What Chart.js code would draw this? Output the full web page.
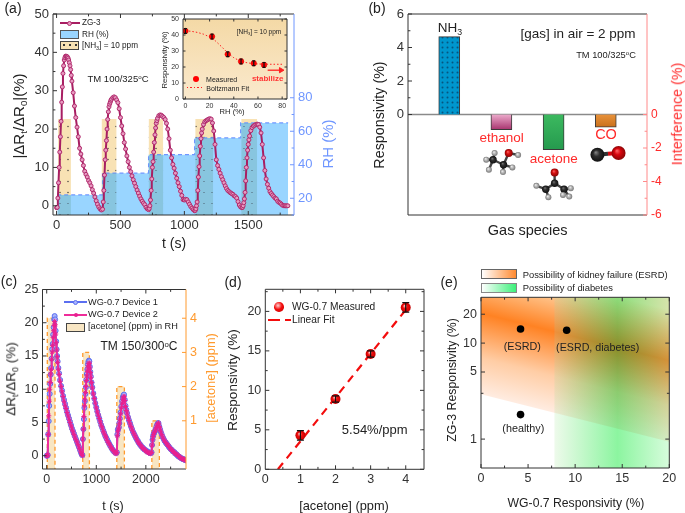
<!DOCTYPE html>
<html>
<head>
<meta charset="utf-8">
<title>Gas sensor panels</title>
<script src="https://cdn.jsdelivr.net/npm/chart.js@4/dist/chart.umd.js"></script>
<style>
  html, body { margin: 0; padding: 0; background: #fff; }
  #wrap { position: relative; width: 685px; height: 513px; overflow: hidden; font-family: "Liberation Sans", Arial, sans-serif; color: #222; filter: blur(0.35px); }
  canvas { position: absolute; left: 0; top: 0; }
  .t { position: absolute; white-space: nowrap; line-height: 1; }
  .t sub, .t sup { font-size: .65em; line-height: 0; vertical-align: baseline; position: relative; }
  .t sub { top: .3em; } .t sup { top: -.45em; }
  .sw { position: absolute; box-sizing: border-box; }
</style>
</head>
<body>
<div id="wrap"></div>
<script>
'use strict';
const W = 685, H = 513;
const FONT = '"Liberation Sans", Arial, sans-serif';
const wrap = document.getElementById('wrap');

/* (a) ZG-3 response in humidity */
const zgTime = [0,5,10,15,20,25,30,35,40,45,50,55,60,65,70,75,80,85,90,95,100,105,110,115,120,130,140,150,160,170,180,190,200,210,220,230,240,250,260,270,280,290,300,310,320,330,340,350,
  360,365,370,375,380,385,390,395,400,405,410,415,420,425,430,440,450,460,470,480,490,500,510,520,530,540,550,560,570,580,590,600,610,620,630,640,650,660,670,680,690,700,710,
  720,725,730,735,740,745,750,755,760,765,770,775,780,785,790,800,810,820,830,840,850,860,870,880,890,900,910,920,930,940,950,960,970,980,990,1000,1010,1020,1030,1040,1050,1060,1070,
  1080,1085,1090,1095,1100,1105,1110,1115,1120,1125,1130,1135,1140,1150,1160,1170,1180,1190,1200,1210,1220,1230,1240,1250,1260,1270,1280,1290,1300,1310,1320,1330,1340,1350,1360,1370,1380,1390,1400,1410,1420,1430,1440,
  1450,1455,1460,1465,1470,1475,1480,1485,1490,1495,1500,1505,1510,1520,1530,1540,1550,1560,1570,1580,1590,1600,1610,1620,1630,1640,1650,1660,1670,1680,1690,1700,1710,1720,1730,1740,1750,1760,1770,1780,1790,1800,1810];
const zgResp = [-0.5,-0.4,2,6,10,14,18,22,27,31,34.5,36.5,38,38.6,39,39,38.9,38.8,38.5,38,37.3,36.5,35.5,34,32.5,29.5,26,23,20.5,18,15,13.5,12,10.5,9,8.2,7.5,6.6,6,5.2,4.2,3.3,2.3,1.3,0.4,-0.3,-0.8,-1.1,
  -0.9,1,4,8,12,14.5,17,20,22.5,24.5,25.8,26.5,27,27.5,27.8,28.2,28.4,28.2,27.6,26.9,25.3,23,20.8,18.8,16.5,14.8,13,11.5,10,8.9,7.8,6.8,5.9,5,4.1,3.3,2.5,1.8,1.2,0.7,0.3,-0.4,-0.8,
  -1,-0.7,0,1.5,4,7,10,11.5,14,16.5,18.5,20.3,21.5,22.2,22.8,23.5,23.7,23.6,23.3,23,22.5,21.5,20,17.5,14.5,12.5,10.8,9.8,8.5,7.2,6,5,3.8,2.7,1.6,1.5,1.7,1.6,1,0.4,-0.2,-0.6,-1,
  -1.3,-1.2,-0.8,0,1,4,7.5,10.2,13,15.5,17.5,19,20,21.2,21.9,22.2,22.4,22.6,22.7,22.6,21.6,19.5,16,12,10.5,9.5,8.5,7.6,6.8,6,5.2,4.5,4,3.7,3.4,3.2,3,2.6,2.4,2,1.1,0.2,-0.3,
  -0.5,-0.4,0,0.8,1.8,3.5,6.5,10,12.5,14.5,16,17.2,18.2,19.6,20.4,20.8,21,21.2,21.3,21.2,20.5,19,16,12.5,9.2,7,5.6,4.6,3.7,3.2,2.8,2.4,2,1.8,1.2,0.9,0.7,0.4,0.1,0,0,0,0];
const rhStepTime = [5,360,720,1080,1440,1812];
const rhLevels = [22,35,46,56,65];
const nh3Start = [12,352,720,1085,1445];
const nh3End = [112,470,835,1226,1570];
const nh3Top = 22.6;

/* (a) inset */
const insetRH = [0,22,35,46,56.5,65];
const insetResp = [42.5,39,28,23.5,22.3,21.3];
const insetErr = [1.5,1.5,1.5,1.5,1.5,1.5];
const fitRH = [0,5,10,15,20,25,30,35,40,45,50,55,60,65,70,75,80];
const fitResp = [42.7,42.3,41.6,40.5,38.8,36.2,32.6,28.8,25.8,23.8,22.8,22.2,21.9,21.8,21.7,21.7,21.7];

/* (b) selectivity */
const gasSpecies = ['NH3','ethanol','acetone','CO'];
const gasValues = [4.65,-0.9,-2.1,-0.75];
const gasTopColors = ['#0096cd','#ecaacb','#3cb95f','#e8923a'];
const gasBottomColors = ['#0096cd','#a8346f','#259a4e','#c9701c'];
const ethanolX = [1.71,1.84,1.87,1.76,2.04,2.03,2.21,2.14,2.32];
const ethanolY = [-2.70,-2.70,-2.30,-3.30,-3.00,-3.44,-3.16,-2.30,-2.42];
const ethanolKind = ['H','C','H','H','C','H','H','O','H'];
const ethanolBonds = [[0,1],[1,2],[1,3],[1,4],[4,5],[4,6],[4,7],[7,8]];
const acetoneX = [3.02,3.02,2.85,3.20,2.67,2.90,3.33,3.30,3.18];
const acetoneY = [-3.46,-4.10,-4.46,-4.46,-4.26,-4.94,-4.40,-4.90,-4.80];
const acetoneKind = ['O','C','C','C','H','H','H','H','H'];
const acetoneBonds = [[0,1],[1,2],[1,3],[2,4],[2,5],[3,6],[3,7],[3,8]];
const coX = [3.84,4.245];
const coY = [-2.40,-2.30];

/* (c) acetone response */
const wgTime = [0,10,20,30,40,50,60,70,80,90,100,110,120,130,140,150,160,170,180,190,200,210,220,235,250,270,290,310,330,350,370,390,410,430,450,470,490,510,530,550,570,590,610,630,650,670,690,705,
  720,730,740,750,760,770,780,790,800,810,820,830,840,850,860,870,880,890,905,920,940,960,980,1000,1020,1040,1060,1080,1100,1120,1140,1160,1180,1200,1220,1240,1260,1280,1300,1320,1340,1360,1380,1400,
  1415,1425,1435,1445,1455,1465,1475,1490,1505,1520,1535,1550,1560,1575,1590,1605,1620,1640,1660,1680,1700,1720,1740,1760,1780,1800,1820,1840,1860,1880,1900,1920,1940,1960,1980,2000,2020,2040,2060,2080,2100,
  2115,2125,2135,2145,2155,2170,2185,2200,2215,2230,2245,2255,2270,2285,2300,2320,2340,2360,2380,2400,2420,2440,2460,2480,2500,2520,2540,2560,2580,2600,2620,2640,2660,2680,2700,2720,2740,2760,2780,2800];
const wgDevice1 = [0,0,0.1,3.2,5.2,7.5,9.3,10.8,12.2,13.2,14.6,16,16.8,18.2,19.3,20.5,21,20.5,18.8,17.2,16,15,14.2,13.2,12.4,11.4,10.5,9.8,9,8.4,7.8,7.2,6.6,6.1,5.6,5.1,4.6,4.1,3.7,3.3,2.9,2.5,2.1,1.7,1.3,0.9,0.5,0.2,
  0.1,2.5,4,5.5,7.2,8.2,9.3,10.3,11.4,12.3,13,13.7,14.1,14.3,14.2,13.4,12.6,11.9,11,10.3,9.4,8.6,7.9,7.3,6.7,6.1,5.6,5.1,4.6,4.2,3.8,3.4,3,2.7,2.4,2.1,1.8,1.5,1.3,1,0.8,0.6,0.5,0.4,
  0.5,3.2,3.9,4.1,4.3,4.9,5.6,6.5,7.4,8.2,8.8,9.1,9.2,8.4,7.5,6.9,6.4,5.8,5.3,4.9,4.4,4,3.6,3.3,3,2.7,2.4,2.2,1.9,1.7,1.5,1.3,1.2,1,0.9,0.8,0.7,0.6,0.5,0.4,0.4,
  0.5,1.6,2.4,2.9,3.2,3.5,3.7,4,4.4,4.7,4.9,4.9,4.4,4,3.6,3.2,2.8,2.5,2.2,2,1.8,1.6,1.4,1.2,1,0.9,0.7,0.6,0.5,0.3,0.2,0,-0.1,-0.2,-0.3,-0.4,-0.5,-0.5,-0.6,-0.7];
const wgDevice2 = [0,0,0.1,3.2,6,8.2,10,11,12.3,13,14.5,15.6,16.6,17.8,18.8,19.6,20.2,19.7,18.3,17,15.9,14.9,14,13,12.2,11.2,10.4,9.6,8.9,8.2,7.6,7.1,6.5,6,5.5,5,4.5,4,3.6,3.2,2.8,2.4,2.1,1.7,1.3,0.9,0.5,0.2,
  0,2.5,4,5.9,7.5,8.4,9.5,10.4,11.3,12,12.7,13.2,13.6,13.9,13.9,13.2,12.5,11.8,11,10.2,9.3,8.6,7.9,7.2,6.6,6.1,5.6,5.1,4.6,4.2,3.7,3.4,3,2.7,2.3,2,1.8,1.5,1.2,1,0.8,0.6,0.4,0.3,
  0.5,3,3.6,4,4.3,4.9,5.5,6.3,7.2,7.9,8.5,8.8,8.9,8.3,7.4,6.8,6.4,5.8,5.3,4.8,4.4,4,3.6,3.3,3,2.7,2.4,2.1,1.9,1.7,1.5,1.3,1.1,1,0.9,0.7,0.6,0.5,0.4,0.4,0.3,
  0.5,1.6,2.4,2.9,3.2,3.5,3.7,4,4.3,4.6,4.8,4.9,4.4,4,3.6,3.2,2.8,2.5,2.2,2,1.8,1.6,1.4,1.2,1,0.9,0.7,0.6,0.4,0.3,0.2,0.1,-0.1,-0.2,-0.3,-0.4,-0.5,-0.5,-0.6,-0.7];
const acetoneStart = [12,727,1414,2121];
const acetoneEnd = [167,861,1567,2273];
const acetoneLevel = [4,3,2,1];

/* (d) calibration */
const calConc = [1,2,3,4];
const calResp = [4.3,8.9,14.6,20.5];
const calErr = [0.6,0.4,0.4,0.6];
const calFitX = [0.36,4];
const calFitY = [0,20.2];

/* (e) diagnosis map */
const mapWG = [4.2,9.1,4.2];
const mapZG = [14,13.6,1.8];
const esrdBoundaryX = [0,20];
const esrdBoundaryY = [2.93,0.94];
const esrdPeakY = [20.5,6.2];
const esrdFadeY = [70,18];
const diabetesFromX = 7.8;
const diabetesPeakX = 14.5;
const diabetesToX = 20;

/* ---- helpers ---- */
function label(html, x, y, o) {
  o = o || {};
  const el = document.createElement('div');
  el.className = 't';
  el.innerHTML = html;
  el.style.left = x + 'px';
  el.style.top = y + 'px';
  el.style.fontSize = (o.size || 12) + 'px';
  if (o.color) el.style.color = o.color;
  if (o.weight) el.style.fontWeight = o.weight;
  const ax = o.left ? '0' : '-50%';
  el.style.transform = 'translate(' + ax + ',-50%)' + (o.rot ? ' rotate(' + o.rot + 'deg)' : '');
  wrap.appendChild(el);
}
function swatch(x, y, w, h, css) {
  const el = document.createElement('div');
  el.className = 'sw';
  el.style.cssText = 'left:' + x + 'px;top:' + y + 'px;width:' + w + 'px;height:' + h + 'px;' + css;
  wrap.appendChild(el);
}
function dotPattern(size, sizeY, bg, dot, r) {
  const c = document.createElement('canvas');
  c.width = size; c.height = sizeY;
  const g = c.getContext('2d');
  g.fillStyle = bg; g.fillRect(0, 0, size, sizeY);
  g.fillStyle = dot;
  g.beginPath(); g.arc(size / 2, sizeY / 2, r, 0, Math.PI * 2); g.fill();
  return g.createPattern(c, 'repeat');
}
// shaded ball for the glossy markers and atoms
function sphere(lit, base, dark, r) {
  return (ctx) => {
    const chart = ctx.chart;
    const col = (k) => (Array.isArray(k) ? k[ctx.dataIndex] : k);
    if (!chart.chartArea || !ctx.parsed) return col(base);
    const x = chart.scales.x.getPixelForValue(ctx.parsed.x);
    const y = chart.scales.y.getPixelForValue(ctx.parsed.y);
    const rad = Array.isArray(r) ? r[ctx.dataIndex] : r;
    const grad = chart.ctx.createRadialGradient(x - rad * 0.25, y - rad * 0.35, 0, x, y, rad);
    grad.addColorStop(0, col(lit)); grad.addColorStop(0.45, col(base)); grad.addColorStop(1, col(dark));
    return grad;
  };
}
function axis(position, min, max, list, color, size, thick, type) {
  const horiz = position === 'bottom' || position === 'top';
  return {
    type: type || 'linear', position, min, max,
    grid: { display: false, drawTicks: false },
    border: { display: false },
    ticks: {
      display: list.length > 0, autoSkip: false, maxRotation: 0, color, padding: horiz ? 3 : 4,
      font: { family: FONT, size }, callback: (v) => String(v),
    },
    afterBuildTicks: (s) => { s.ticks = list.map((v) => ({ value: v })); },
    afterFit: (s) => { if (horiz) s.height = thick; else s.width = thick; },
  };
}

/* frame and inward ticks, all taken from the scales */
const framePlugin = {
  id: 'frame',
  beforeDatasetsDraw(chart, args, o) {
    if (o.paint) o.paint(chart);
  },
  afterDatasetsDraw(chart, args, o) {
    const g = chart.ctx, a = chart.chartArea;
    g.save();
    (o.sides || []).forEach((s) => {
      const scale = chart.scales[s.scale];
      g.strokeStyle = s.color || '#333';
      g.lineWidth = s.width || 1;
      g.beginPath();
      const p = { left: [a.left, a.top, a.left, a.bottom], right: [a.right, a.top, a.right, a.bottom],
        top: [a.left, a.top, a.right, a.top], bottom: [a.left, a.bottom, a.right, a.bottom] }[s.side];
      g.moveTo(p[0], p[1]); g.lineTo(p[2], p[3]);
      const tick = (v, len) => {
        const q = scale.getPixelForValue(v);
        if (s.side === 'left') { g.moveTo(a.left, q); g.lineTo(a.left + len, q); }
        if (s.side === 'right') { g.moveTo(a.right, q); g.lineTo(a.right - len, q); }
        if (s.side === 'top') { g.moveTo(q, a.top); g.lineTo(q, a.top + len); }
        if (s.side === 'bottom') { g.moveTo(q, a.bottom); g.lineTo(q, a.bottom - len); }
      };
      (s.major || []).forEach((v) => tick(v, s.len || 4));
      (s.minor || []).forEach((v) => tick(v, (s.len || 4) * 0.6));
      g.stroke();
    });
    if (o.errors) {
      const meta = chart.getDatasetMeta(o.errors.dataset), y = chart.scales[o.errors.scale || 'y'];
      g.strokeStyle = '#111'; g.lineWidth = 1.2; g.beginPath();
      meta.data.forEach((pt, i) => {
        const top = y.getPixelForValue(o.errors.y[i] + o.errors.err[i]);
        const bot = y.getPixelForValue(o.errors.y[i] - o.errors.err[i]);
        const c = o.errors.cap;
        g.moveTo(pt.x, top); g.lineTo(pt.x, bot);
        g.moveTo(pt.x - c, top); g.lineTo(pt.x + c, top);
        g.moveTo(pt.x - c, bot); g.lineTo(pt.x + c, bot);
      });
      g.stroke();
    }
    g.restore();
  },
};

function panel(plot, margins, datasets, scales, frame) {
  const c = document.createElement('canvas');
  c.width = W; c.height = H;
  c.style.width = W + 'px'; c.style.height = H + 'px';
  wrap.appendChild(c);
  return new Chart(c.getContext('2d'), {
    type: 'line',
    data: { datasets },
    options: {
      responsive: false, animation: false, devicePixelRatio: 1, parsing: false, normalized: false,
      layout: { padding: {
        left: plot.left - margins.left, right: W - plot.right - margins.right,
        top: plot.top, bottom: H - plot.bottom - margins.bottom } },
      scales,
      plugins: { legend: { display: false }, tooltip: { enabled: false }, title: { display: false }, frame },
    },
    plugins: [framePlugin],
  });
}
const pts = (xs, ys) => xs.map((x, i) => ({ x, y: ys[i] }));

/* ---- (a) ---- */
const RHBLUE = '#6f96ff', BLK = '#333';
const rhPts = [];
rhLevels.forEach((v, i) => { rhPts.push({ x: rhStepTime[i], y: v }, { x: rhStepTime[i + 1], y: v }); });
const beigeFill = dotPattern(8, 11, '#f8e2b4', '#333', 0.7);
const overlapFill = dotPattern(8, 11, 'rgba(90,150,130,0.26)', '#456', 0.6);
const aSets = [{
  data: pts(zgTime, zgResp), yAxisID: 'y', borderColor: '#a81e62', borderWidth: 2,
  pointRadius: 2, pointBorderWidth: 1, pointBorderColor: '#b02a6c', pointBackgroundColor: '#e79ac0', tension: 0,
}];
nh3Start.forEach((s, i) => {
  aSets.push({ data: pts([s, nh3End[i]], [rhLevels[i], rhLevels[i]]), yAxisID: 'y2', borderWidth: 0, pointRadius: 0, fill: 'start', backgroundColor: overlapFill });
});
aSets.push({ data: rhPts, yAxisID: 'y2', borderColor: RHBLUE, borderWidth: 1.2, borderDash: [4, 3], pointRadius: 0, fill: 'start', backgroundColor: '#99d5ff' });
nh3Start.forEach((s, i) => {
  aSets.push({ data: pts([s, nh3End[i]], [nh3Top, nh3Top]), yAxisID: 'y', borderWidth: 0, pointRadius: 0, fill: 'start', backgroundColor: beigeFill });
});
panel({ left: 53, right: 294, top: 14, bottom: 215 }, { left: 30, right: 30, bottom: 20 }, aSets, {
  x: axis('bottom', -28, 1858, [0, 500, 1000, 1500], BLK, 13, 20),
  y: axis('left', -2.4, 50, [0, 10, 20, 30, 40, 50], BLK, 13, 30),
  y2: axis('right', 10, 130, [20, 40, 60, 80], RHBLUE, 13, 30),
}, { sides: [
  { side: 'left', scale: 'y', major: [0, 10, 20, 30, 40, 50], minor: [5, 15, 25, 35, 45] },
  { side: 'top', scale: 'x', major: [0, 500, 1000, 1500], minor: [250, 750, 1250, 1750] },
  { side: 'bottom', scale: 'x', major: [0, 500, 1000, 1500], minor: [250, 750, 1250, 1750] },
  { side: 'right', scale: 'y2', color: RHBLUE, major: [20, 40, 60, 80], minor: [10, 30, 50, 70] },
] });

/* (a) inset */
panel({ left: 183, right: 287, top: 19, bottom: 99 }, { left: 12, right: 0, bottom: 10 }, [
  { data: pts(insetRH, insetResp), backgroundColor: '#f00', borderColor: '#d00', showLine: false, pointRadius: 2.8, pointBorderWidth: 0.5 },
  { data: pts(fitRH, fitResp), borderColor: '#f22', borderWidth: 1, borderDash: [1.5, 2], pointRadius: 0 },
  { data: pts([68, 79], [18, 18]), borderColor: '#f22', borderWidth: 1.3, pointRadius: 0 },
  { data: pts([79], [18]), showLine: false, pointStyle: 'triangle', rotation: 90, pointRadius: 3, backgroundColor: '#f22', borderColor: '#f22' },
], {
  x: axis('bottom', -2, 84, [0, 20, 40, 60, 80], BLK, 7, 10),
  y: axis('left', 0, 50, [0, 10, 20, 30, 40, 50], BLK, 7, 12),
}, {
  paint(chart) {
    const a = chart.chartArea, g = chart.ctx;
    const grad = g.createLinearGradient(0, a.top, 0, a.bottom);
    grad.addColorStop(0, '#f4d9a6'); grad.addColorStop(1, '#fae9cd');
    g.fillStyle = grad; g.fillRect(a.left, a.top, a.width, a.height);
  },
  errors: { dataset: 0, y: insetResp, err: insetErr, cap: 1.5 },
  sides: [
    { side: 'left', scale: 'y', len: 2.5, major: [0, 10, 20, 30, 40, 50] },
    { side: 'right', scale: 'y', len: 2.5, major: [0, 10, 20, 30, 40, 50] },
    { side: 'top', scale: 'x', len: 2.5, major: [0, 20, 40, 60, 80] },
    { side: 'bottom', scale: 'x', len: 2.5, major: [0, 20, 40, 60, 80] },
  ],
});

/* ---- (b) ---- */
const gasX = gasSpecies.map((g, i) => i + 1);
const nh3Dots = dotPattern(5, 5, '#0096cd', '#05557f', 1);
const atomBase = { O: '#d40f0f', C: '#2e2e2e', H: '#b9b9b9' };
const atomLit = { O: '#f66', C: '#777', H: '#f4f4f4' };
const atomDark = { O: '#8a0505', C: '#111', H: '#777' };
const atomRadius = { O: 4, C: 3.7, H: 3 };
function moleculeSets(xs, ys, kinds, bonds) {
  const radii = kinds.map((k) => atomRadius[k]);
  const out = [{ data: pts(xs, ys), showLine: false, pointRadius: radii, pointBorderWidth: 0,
    pointBackgroundColor: sphere(kinds.map((k) => atomLit[k]), kinds.map((k) => atomBase[k]), kinds.map((k) => atomDark[k]), radii) }];
  bonds.forEach((b) => out.push({ data: pts([xs[b[0]], xs[b[1]]], [ys[b[0]], ys[b[1]]]), borderColor: '#444', borderWidth: 2.4, pointRadius: 0 }));
  return out;
}
const bSets = [
  { type: 'bar', data: pts(gasX, gasValues), barThickness: 21, borderWidth: 1, borderColor: '#3a3a3a',
    backgroundColor(ctx) {
      const i = ctx.dataIndex;
      if (i === 0) return nh3Dots;
      const chart = ctx.chart;
      if (!chart.chartArea) return gasTopColors[i];
      const y = chart.scales.y;
      const grad = chart.ctx.createLinearGradient(0, y.getPixelForValue(0), 0, y.getPixelForValue(gasValues[i]));
      grad.addColorStop(0, gasTopColors[i]); grad.addColorStop(1, gasBottomColors[i]);
      return grad;
    } },
  { data: pts([0.21, 4.79], [0, 0]), borderColor: '#8a8a8a', borderWidth: 1.6, pointRadius: 0 },
  { data: pts(coX, coY), showLine: false, pointRadius: 7, pointBorderWidth: 0,
    pointBackgroundColor: sphere(['#888', '#ff6a6a'], ['#2e2e2e', '#d8060e'], ['#111', '#8a0505'], 7) },
  { data: pts([coX[0], (coX[0] + coX[1]) / 2], [coY[0], (coY[0] + coY[1]) / 2]), borderColor: '#333', borderWidth: 4, pointRadius: 0 },
  { data: pts([(coX[0] + coX[1]) / 2, coX[1]], [(coY[0] + coY[1]) / 2, coY[1]]), borderColor: '#d8060e', borderWidth: 4, pointRadius: 0 },
].concat(moleculeSets(ethanolX, ethanolY, ethanolKind, ethanolBonds), moleculeSets(acetoneX, acetoneY, acetoneKind, acetoneBonds));
const RED = '#ff2a2a', REDLINE = '#ff8a8a';
panel({ left: 408, right: 647, top: 14, bottom: 215 }, { left: 30, right: 26, bottom: 6 }, bSets, {
  x: axis('bottom', 0.21, 4.79, [], BLK, 10, 6),
  y: axis('left', -6, 6, [0, 2, 4, 6], BLK, 13, 30),
  y2: axis('right', -6, 6, [0, -2, -4, -6], RED, 12, 26),
}, { sides: [
  { side: 'top', scale: 'x', major: [] },
  { side: 'bottom', scale: 'x', major: [] },
  { side: 'left', scale: 'y', major: [0, 2, 4, 6], minor: [1, 3, 5] },
  { side: 'right', scale: 'y2', color: REDLINE, major: [0, -2, -4, -6], minor: [-1, -3, -5] },
] });

/* ---- (c) ---- */
const ORANGE = '#ff9a2e';
const cSets = [
  { data: pts(wgTime, wgDevice2), yAxisID: 'y', borderColor: '#ef2c9a', borderWidth: 2, pointStyle: 'star', pointRadius: 2.6, pointBorderColor: '#e8208f', pointBackgroundColor: '#e8208f', pointBorderWidth: 1 },
  { data: pts(wgTime, wgDevice1), yAxisID: 'y', borderColor: '#5b6ff0', borderWidth: 2, pointRadius: 2.5, pointBorderColor: '#5b6ff0', pointBackgroundColor: '#a9b4fb', pointBorderWidth: 1 },
];
acetoneStart.forEach((s, i) => {
  const e = acetoneEnd[i], v = acetoneLevel[i];
  cSets.push({ data: pts([s, s, e, e], [-0.41, v, v, -0.41]), yAxisID: 'y2', borderColor: ORANGE, borderWidth: 1.3, borderDash: [4, 3], pointRadius: 0, fill: 'start', backgroundColor: '#f8e6c3' });
});
panel({ left: 42.5, right: 186, top: 289.5, bottom: 469 }, { left: 26, right: 20, bottom: 20 }, cSets, {
  x: axis('bottom', -85, 2810, [0, 1000, 2000], BLK, 12.5, 20),
  y: axis('left', -2, 25, [0, 5, 10, 15, 20, 25], BLK, 12.5, 26),
  y2: axis('right', -0.41, 4.84, [1, 2, 3, 4], ORANGE, 12.5, 20),
}, { sides: [
  { side: 'left', scale: 'y', major: [0, 5, 10, 15, 20, 25], minor: [2.5, 7.5, 12.5, 17.5, 22.5] },
  { side: 'top', scale: 'x', major: [0, 1000, 2000], minor: [500, 1500, 2500] },
  { side: 'bottom', scale: 'x', major: [0, 1000, 2000], minor: [500, 1500, 2500] },
  { side: 'right', scale: 'y2', color: ORANGE, major: [1, 2, 3, 4] },
] });

/* ---- (d) ---- */
panel({ left: 265.3, right: 424, top: 289.3, bottom: 469.3 }, { left: 22, right: 0, bottom: 20 }, [
  { data: pts(calConc, calResp), showLine: false, pointRadius: 5, pointBorderWidth: 0,
    pointBackgroundColor: sphere('#ffd0d0', '#f30d0d', '#c40000', 5) },
  { data: pts(calFitX, calFitY), borderColor: '#f30d0d', borderWidth: 2.2, borderDash: [8, 6], pointRadius: 0 },
], {
  x: axis('bottom', 0, 4.52, [0, 1, 2, 3, 4], BLK, 12.5, 20),
  y: axis('left', 0, 22.8, [0, 5, 10, 15, 20], BLK, 12.5, 22),
}, {
  errors: { dataset: 0, y: calResp, err: calErr, cap: 3.5 },
  sides: [
    { side: 'left', scale: 'y', major: [0, 5, 10, 15, 20], minor: [2.5, 7.5, 12.5, 17.5, 22.5] },
    { side: 'right', scale: 'y', major: [0, 5, 10, 15, 20], minor: [2.5, 7.5, 12.5, 17.5, 22.5] },
    { side: 'top', scale: 'x', major: [1, 2, 3, 4], minor: [0.5, 1.5, 2.5, 3.5] },
    { side: 'bottom', scale: 'x', major: [1, 2, 3, 4], minor: [0.5, 1.5, 2.5, 3.5] },
  ],
});

/* ---- (e) ---- */
function paintMap(chart) {
  const g = chart.ctx, a = chart.chartArea, x = chart.scales.x, y = chart.scales.y;
  const x0 = x.getPixelForValue(esrdBoundaryX[0]), x1 = x.getPixelForValue(esrdBoundaryX[1]);
  const by0 = y.getPixelForValue(esrdBoundaryY[0]), by1 = y.getPixelForValue(esrdBoundaryY[1]);
  const peak0 = y.getPixelForValue(esrdPeakY[0]), fade0 = y.getPixelForValue(esrdFadeY[0]);
  // the band runs along the boundary, so the gradient runs square to it
  const dx = x1 - x0, dy = by1 - by0, len = Math.hypot(dx, dy);
  const nx = dy / len, ny = -dx / len;
  const depth = (by0 - fade0) * (-ny);
  const peakAt = (by0 - peak0) / (by0 - fade0);
  const grad = g.createLinearGradient(x0, by0, x0 + nx * depth, by0 + ny * depth);
  grad.addColorStop(0, 'rgba(255,236,225,1)');
  grad.addColorStop(peakAt * 0.45, 'rgba(255,205,165,1)');
  grad.addColorStop(peakAt, 'rgba(255,130,35,1)');
  grad.addColorStop(1, 'rgba(255,228,190,1)');
  const splitX = x.getPixelForValue(diabetesFromX);
  g.save();
  g.beginPath();
  g.moveTo(x0, by0); g.lineTo(x1, by1); g.lineTo(x1, a.top); g.lineTo(x0, a.top); g.closePath();
  g.fillStyle = grad; g.fill();
  // the orange is a little paler on the diabetes side of the split
  g.save();
  g.clip();
  g.fillStyle = 'rgba(255,255,255,0.14)';
  g.fillRect(splitX, a.top, a.right - splitX, a.height);
  g.restore();
  // the green field, multiplied over the orange
  const gx = g.createLinearGradient(splitX, 0, x.getPixelForValue(diabetesToX), 0);
  const mid = (diabetesPeakX - diabetesFromX) / (diabetesToX - diabetesFromX);
  gx.addColorStop(0, 'rgb(238,250,235)');
  gx.addColorStop(mid, 'rgb(140,245,160)');
  gx.addColorStop(1, 'rgb(215,252,220)');
  g.globalCompositeOperation = 'multiply';
  g.fillStyle = gx;
  g.fillRect(splitX, a.top, a.right - splitX, a.height);
  g.restore();
}
panel({ left: 481, right: 669.3, top: 297.3, bottom: 468 }, { left: 24, right: 0, bottom: 20 }, [
  { data: pts(mapWG, mapZG), showLine: false, pointRadius: 3.8, pointBackgroundColor: '#000', pointBorderWidth: 0 },
], {
  x: axis('bottom', 0, 20, [0, 5, 10, 15, 20], BLK, 12.5, 20),
  y: axis('left', 0.5, 30, [1, 5, 10, 20], BLK, 12.5, 24, 'logarithmic'),
}, {
  paint: paintMap,
  sides: [
    { side: 'left', scale: 'y', major: [1, 5, 10, 20], minor: [3] },
    { side: 'right', scale: 'y', major: [1, 5, 10, 20], minor: [3] },
    { side: 'top', scale: 'x', major: [0, 5, 10, 15, 20], minor: [2.5, 7.5, 12.5, 17.5] },
    { side: 'bottom', scale: 'x', major: [0, 5, 10, 15, 20], minor: [2.5, 7.5, 12.5, 17.5] },
  ],
});

/* ---- text and legends ---- */
label('(a)', 13, 8, { size: 14 });
label('(b)', 377, 8, { size: 14 });
label('(c)', 9, 281, { size: 14 });
label('(d)', 233, 282, { size: 14 });
label('(e)', 449, 282, { size: 14 });

label('|ΔR<sub>t</sub>/ΔR<sub>0</sub>|(%)', 18, 116, { size: 15, rot: -90 });
label('RH (%)', 327, 144, { size: 15, rot: -90, color: RHBLUE });
label('t (s)', 174, 243, { size: 14 });
label('TM 100/325<sup>o</sup>C', 118, 79, { size: 9.5 });
label('ZG-3', 82, 23, { size: 8.2, left: true });
label('RH (%)', 82, 35, { size: 8.2, left: true });
label('[NH<sub>3</sub>] = 10 ppm', 82, 46, { size: 8.2, left: true });
swatch(60, 22, 20, 2, 'background:#a81e62');
swatch(67, 20.5, 5, 5, 'background:#e79ac0;border:1px solid #b02a6c;border-radius:50%');
swatch(60, 30, 19, 9, 'background:#99d5ff;border:1px solid #555');
swatch(60, 41, 19, 9, 'background:radial-gradient(circle,#333 0.7px,transparent 1px) 0 0/6px 6px,#f8e2b4;border:1px solid #444');

label('Responsivity (%)', 165, 60, { size: 7.6, rot: -90 });
label('RH (%)', 232, 112, { size: 7.6 });
label('[NH<sub>3</sub>] = 10 ppm', 259, 31.7, { size: 6.5 });
label('Measured', 221.7, 79, { size: 7 });
label('Boltzmann Fit', 227.7, 87.7, { size: 7 });
label('stabilize', 267.7, 78.5, { size: 8, color: '#f33', weight: 'bold' });
swatch(192.5, 75.7, 6, 6, 'background:#f00;border-radius:50%');
swatch(187, 87, 16, 1, 'background:repeating-linear-gradient(90deg,#f22 0 1.5px,transparent 1.5px 3.5px)');

label('Responsivity (%)', 379, 115, { size: 14.3, rot: -90 });
label('Interference (%)', 677, 114, { size: 14.3, rot: -90, color: RED });
label('Gas species', 527.7, 230, { size: 14.5 });
label('NH<sub>3</sub>', 450, 28, { size: 13.5 });
label('ethanol', 501.7, 138, { size: 13.5, color: RED });
label('acetone', 553.7, 159, { size: 13.5, color: RED });
label('CO', 606, 134, { size: 14.5, color: RED });
label('[gas] in air = 2 ppm', 578, 34, { size: 13.5 });
label('TM 100/325<sup>o</sup>C', 606, 56, { size: 9.3 });

label('ΔR<sub>t</sub>/ΔR<sub>0</sub> (%)', 10.5, 378.5, { size: 13.5, rot: -90 });
label('[acetone] (ppm)', 211, 378, { size: 12.8, rot: -90, color: ORANGE });
label('t (s)', 113, 506, { size: 12.5 });
label('TM 150/300<sup>o</sup>C', 139, 346, { size: 12 });
label('WG-0.7 Device 1', 88, 303, { size: 9.2, left: true });
label('WG-0.7 Device 2', 88, 315, { size: 9.2, left: true });
label('[acetone] (ppm) in RH', 88, 327, { size: 9.2, left: true });
swatch(64, 301, 23, 2, 'background:#5b6ff0');
swatch(73, 299.5, 5, 5, 'background:#a9b4fb;border:1px solid #5b6ff0;border-radius:50%');
swatch(64, 314, 23, 2, 'background:#ef2c9a');
swatch(73.5, 313, 4, 4, 'background:#e8208f;border-radius:50%');
swatch(66, 322.5, 19, 9, 'background:#f8e6c3;border:1px solid #444');

label('Responsivity (%)', 233, 380, { size: 13.5, rot: -90 });
label('[acetone] (ppm)', 344, 506, { size: 12.8 });
label('WG-0.7 Measured', 292, 307, { size: 10.2, left: true });
label('Linear Fit', 292, 320, { size: 10.2, left: true });
label('5.54%/ppm', 374.7, 429, { size: 13 });
swatch(274, 302, 9.5, 9.5, 'background:radial-gradient(circle at 40% 35%,#ffd0d0 0,#f30d0d 45%,#c40000 100%);border-radius:50%');
swatch(268, 319, 12, 2.2, 'background:#f30d0d');
swatch(285, 319, 6, 2.2, 'background:#f30d0d');

label('ZG-3 Responsivity (%)', 452, 380, { size: 12.3, rot: -90 });
label('WG-0.7 Responsivity (%)', 576, 503, { size: 12.2 });
label('(ESRD)', 522.3, 346, { size: 10.8 });
label('(ESRD, diabetes)', 597.7, 347, { size: 10.7 });
label('(healthy)', 523.3, 427.5, { size: 10.8 });
label('Possibility of kidney failure (ESRD)', 522.7, 275, { size: 9.4, left: true });
label('Possibility of diabetes', 522.7, 288, { size: 9.4, left: true });
swatch(480.7, 269.3, 36, 10, 'background:linear-gradient(90deg,#fff,#ff8a30);border:1px solid #666');
swatch(480.7, 283.3, 36, 10, 'background:linear-gradient(90deg,#fff,#3cf07a);border:1px solid #888');
</script>
</body>
</html>
